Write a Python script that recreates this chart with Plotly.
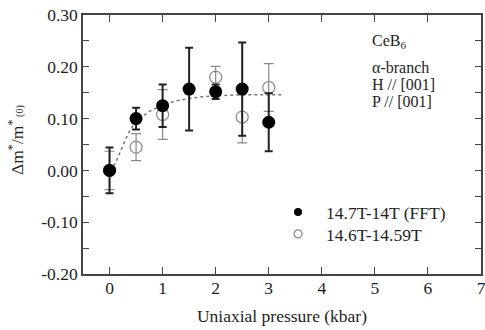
import plotly.graph_objects as go

# ---- data ----
pressure = [0, 0.5, 1, 1.5, 2, 2.5, 3]
fft_y = [0.000, 0.100, 0.125, 0.157, 0.152, 0.157, 0.093]
fft_err = [0.044, 0.021, 0.041, 0.080, 0.014, 0.090, 0.056]

pressure_open = [0, 0.5, 1, 2, 2.5, 3]
open_y = [0.000, 0.045, 0.108, 0.180, 0.103, 0.160]
open_err = [0.037, 0.026, 0.048, 0.021, 0.050, 0.046]

fit_x = [0, 0.1, 0.2, 0.3, 0.4, 0.5, 0.75, 1.0, 1.25, 1.5, 1.75, 2.0, 2.5, 3.0, 3.25]
fit_y = [0, 0.012, 0.035, 0.060, 0.080, 0.094, 0.114, 0.126, 0.134, 0.139, 0.142, 0.144, 0.146, 0.146, 0.146]

y_tickvals = [-0.2, -0.1, 0.0, 0.1, 0.2, 0.3]
y_ticktext = ["-0.20", "-0.10", "0.00", "0.10", "0.20", "0.30"]
x_tickvals = [0, 1, 2, 3, 4, 5, 6, 7]
x_ticktext = ["0", "1", "2", "3", "4", "5", "6", "7"]

FONT = "'Liberation Serif', 'Times New Roman', serif"
FS = 17.5
AXC = "#444444"
TXT = "#1e1e1e"

L, R, T, B = 83, 4, 15, 56
W, H = 485, 330
PW, PH = W - L - R, H - T - B


def px_x(px):
    return (px - L) / PW


def px_y(py):
    return 1 - (py - T) / PH


fig = go.Figure()

fig.add_trace(go.Scatter(
    x=fit_x, y=fit_y, mode="lines",
    line=dict(color="#777777", width=1.5, dash="3px,3px"),
    showlegend=False, hoverinfo="skip"))

fig.add_trace(go.Scatter(
    x=pressure_open, y=open_y, mode="markers", name="14.6T-14.59T",
    marker=dict(symbol="circle-open", size=12, color="#8a8a8a", line=dict(width=1.2)),
    error_y=dict(type="data", array=open_err, color="#8a8a8a", thickness=1.2, width=5),
    showlegend=False))

fig.add_trace(go.Scatter(
    x=pressure, y=fft_y, mode="markers", name="14.7T-14T (FFT)",
    marker=dict(symbol="circle", size=13, color="black"),
    error_y=dict(type="data", array=fft_err, color="#222222", thickness=2, width=4),
    showlegend=False))

# legend entries (small symbols, as in the reference), one legend box each
fig.add_trace(go.Scatter(
    x=[None], y=[None], mode="markers", name="14.7T-14T (FFT)",
    marker=dict(symbol="circle", size=8, color="black"), legend="legend"))
fig.add_trace(go.Scatter(
    x=[None], y=[None], mode="markers", name="14.6T-14.59T",
    marker=dict(symbol="circle-open", size=8, color="#8a8a8a", line=dict(width=1.2)),
    legend="legend2"))

annots = [
    ("CeB<sub>6</sub>", 41),
    ("α-branch", 67),
    ("H // [001]", 84),
    ("P // [001]", 101),
]
for txt, ypx in annots:
    fig.add_annotation(
        x=px_x(370), y=px_y(ypx), xref="paper", yref="paper",
        text=txt, showarrow=False, xanchor="left", yanchor="middle",
        font=dict(family=FONT, size=16, color=TXT))

# y-axis title
fig.add_annotation(
    x=px_x(16), y=px_y(140), xref="paper", yref="paper",
    text="Δm<sup>*</sup>/m<sup>*</sup><span style='font-size:10px'> (0)</span>",
    textangle=-90, showarrow=False, xanchor="center", yanchor="middle",
    font=dict(family=FONT, size=FS, color=TXT))

leg_common = dict(xanchor="left", yanchor="middle", bgcolor="rgba(0,0,0,0)",
                  font=dict(family=FONT, size=FS, color=TXT), itemwidth=46)

fig.update_layout(
    width=W, height=H,
    margin=dict(l=L, r=R, t=T, b=B),
    paper_bgcolor="white", plot_bgcolor="white",
    font=dict(family=FONT, size=FS, color=TXT),
    showlegend=True,
    legend=dict(x=px_x(270), y=px_y(212), **leg_common),
    legend2=dict(x=px_x(270), y=px_y(234), **leg_common),
)

fig.update_xaxes(
    range=[-0.5, 7], tickvals=x_tickvals, ticktext=x_ticktext,
    showline=True, linecolor=AXC, linewidth=1.5, mirror="ticks",
    ticks="inside", ticklen=7, tickwidth=1.2, tickcolor=AXC,
    showgrid=False, zeroline=False, automargin=False,
    ticklabelstandoff=-3, ticklabeloverflow="allow",
    title=dict(text="Uniaxial pressure (kbar)", font=dict(family=FONT, size=FS, color=TXT), standoff=13),
    tickfont=dict(family=FONT, size=FS, color=TXT))

fig.update_yaxes(
    range=[-0.2, 0.3], tickvals=y_tickvals, ticktext=y_ticktext,
    showline=True, linecolor=AXC, linewidth=1.5, mirror="ticks",
    ticks="inside", ticklen=6, tickwidth=1.2, tickcolor=AXC,
    minor=dict(dtick=0.05, ticks="inside", ticklen=6, tickcolor=AXC, tickwidth=1.2),
    showgrid=False, zeroline=False, automargin=False,
    tickfont=dict(family=FONT, size=FS, color=TXT))

fig.write_html(
    "out.html",
    config={"displayModeBar": False},
    post_script="document.body.style.margin='0';document.body.style.overflow='hidden';",
)
